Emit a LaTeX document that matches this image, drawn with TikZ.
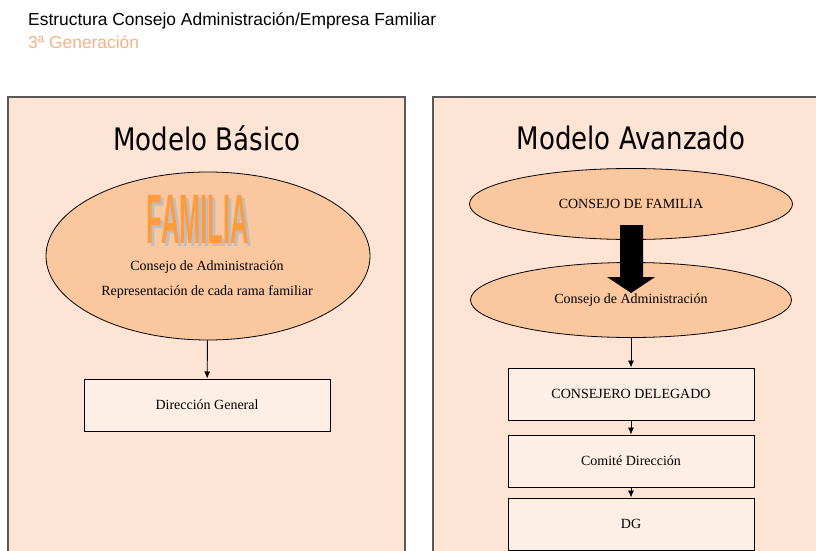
\documentclass[tikz,border=0pt]{standalone}
\usepackage{fontspec}
\setmainfont{Liberation Serif}
\newfontfamily\headfont{Liberation Sans}
\newfontfamily\modelfont{DejaVu Sans}
\usetikzlibrary{arrows.meta,shapes}

\definecolor{panelfill}{RGB}{253,228,212}
\definecolor{ovalfill}{RGB}{251,199,158}
\definecolor{boxfill}{RGB}{253,239,229}
\definecolor{genorange}{RGB}{244,177,131}
\definecolor{famorange}{RGB}{255,155,60}
\definecolor{famglow}{RGB}{255,200,150}
\definecolor{shadowgray}{RGB}{190,190,190}
\definecolor{edgegray}{RGB}{89,89,89}

\newcommand{\famword}{\scalebox{0.64}[1.75]{FAMILIA}}

\tikzset{
  panel/.style={draw=edgegray,line width=1.2pt,fill=panelfill},
  oval/.style={draw,ellipse,fill=ovalfill,line width=0.8pt,inner sep=0pt,font=\fontsize{14}{16}\selectfont},
  orgbox/.style={draw,rectangle,fill=boxfill,line width=1pt,minimum width=246pt,minimum height=52pt,inner sep=0pt,font=\fontsize{14}{16}\selectfont},
  lbl/.style={inner sep=0pt,font=\fontsize{14}{16}\selectfont},
  model/.style={inner sep=0pt,font=\modelfont\fontsize{31}{36}\selectfont},
  famtext/.style={inner sep=0pt,font=\headfont\bfseries\fontsize{40}{44}\selectfont},
  link/.style={-{Latex[length=7pt,width=6pt]},line width=0.9pt}
}

\begin{document}
\begin{tikzpicture}[x=1pt,y=-1pt]
\useasboundingbox (0,0) rectangle (816,551);
\clip (0,0) rectangle (816,551);

% heading
\node (T1) at (28,21)[anchor=west,inner sep=0pt,font=\headfont\fontsize{17.4}{20}\selectfont] {Estructura Consejo Administración/Empresa Familiar};
\node (T2) at (28,42)[anchor=west,inner sep=0pt,text=genorange,font=\headfont\fontsize{17.4}{20}\selectfont] {3ª Generación};

% panels
\draw [panel] (8,97) rectangle (405,570);
\draw [panel] (433,97) rectangle (840,570);
\node (MB) at (207,138)[model] {\scalebox{0.84}[1]{Modelo Básico}};
\node (MA) at (631,138)[model] {\scalebox{0.84}[1]{Modelo Avanzado}};

% basic model
\node (CA1) at (208,256)[oval,minimum width=324pt,minimum height=168pt] {};
\node (FAMs) at (201,222)[famtext,text=shadowgray] {\famword};
\node (FAM) at (198,219.5)[famtext,text=famorange] {\famword};
\node (CA1a) at (207,267)[lbl] {Consejo de Administración};
\node (CA1b) at (207,292)[lbl] {Representación de cada rama familiar};
\node (DG1) at (207,405)[orgbox] {Dirección General};
\draw [link] (CA1) -- (DG1);

% advanced model
\node (CF) at (631,204)[oval,minimum width=323pt,minimum height=71pt] {CONSEJO DE FAMILIA};
\node (CA2) at (631,300)[oval,minimum width=321pt,minimum height=75pt] {Consejo de Administración};
\fill (620,225) -- (643,225) -- (643,277) -- (655,277) -- (631,293) -- (607,277) -- (620,277) -- cycle;
\node (CD) at (631,394)[orgbox] {CONSEJERO DELEGADO};
\node (CDir) at (631,461)[orgbox] {Comité Dirección};
\node (DG2) at (631,524)[orgbox] {DG};
\draw [link] (CA2) -- (CD);
\draw [link] (CD) -- (CDir);
\draw [link] (CDir) -- (DG2);
\end{tikzpicture}
\end{document}
